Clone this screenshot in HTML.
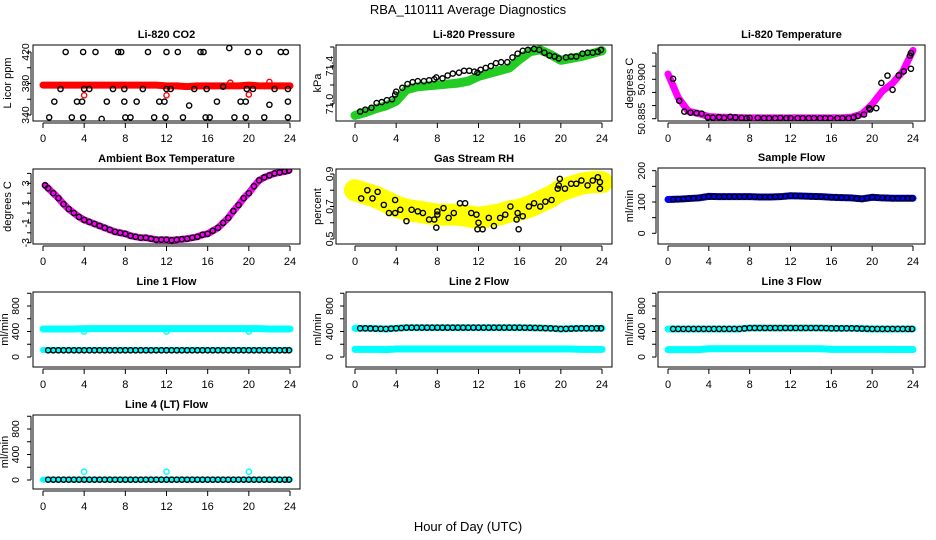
<!DOCTYPE html>
<html><head><meta charset="utf-8"><style>
html,body{margin:0;padding:0;background:#fff;}
svg{display:block;font-family:"Liberation Sans",Arial,sans-serif;}
</style></head><body>
<svg id="chart" width="936" height="540" viewBox="0 0 936 540" xmlns="http://www.w3.org/2000/svg">
<rect width="936" height="540" fill="#fff"/>
<text x="468" y="14" text-anchor="middle" font-size="13">RBA_110111  Average Diagnostics</text>
<text x="468" y="531" text-anchor="middle" font-size="13">Hour of Day (UTC)</text>
</svg>
<script>
// ---- data ----
const xTicks = [0,4,8,12,16,20,24];
const bandHours = [0,1,2,3,4,5,6,7,8,9,10,11,12,13,14,15,16,17,18,19,20,21,22,23,24];
const ptHours = [0.5,1,1.5,2,2.5,3,3.5,4,4.5,5,5.5,6,6.5,7,7.5,8,8.5,9,9.5,10,10.5,11,11.5,12,12.5,13,13.5,14,14.5,15,15.5,16,16.5,17,17.5,18,18.5,19,19.5,20,20.5,21,21.5,22,22.5,23,23.5,23.9];
const outlierHours = [4,12,20];

// CO2
const co2Hours = [0.6,1.1,1.7,2.2,2.8,3.3,3.8,3.9,3.9,4.0,4.5,5.1,5.7,6.2,6.8,7.3,7.6,7.9,7.9,8.0,8.5,9.1,9.7,10.2,10.8,11.3,11.8,11.9,12.0,12.0,12.4,13.1,13.6,14.2,14.7,15.3,15.6,15.8,15.9,16.2,16.9,17.5,18.1,18.6,19.2,19.7,19.7,19.8,19.9,20.4,21.0,21.5,22.0,22.5,23.1,23.6,23.8,23.8,23.8];
const co2Black = [337,357,373,420,337,357,357,420,337,373,373,420,335,357,373,420,420,373,357,337,337,357,373,420,337,357,357,337,373,420,373,420,337,352,373,420,420,337,373,337,357,376,425,337,357,357,337,373,420,373,420,337,353,373,420,420,373,357,337];
const co2Band = [378,378,378,378,378,378,378,378,378,378,378,378,377,377,376,377,377,377,377,377,378,377,377,377,377];
const co2RedOutHours = [4.0,12.0,18.2,20.0,22.0];
const co2RedOut = [365,365,381,366,382];
// Pressure
const presHours = [0.5,1.0,1.6,2.1,2.6,3.1,3.6,3.9,4.0,4.6,5.1,5.6,6.1,6.7,7.2,7.7,7.9,8.5,9.0,9.5,10.1,10.6,11.1,11.6,11.9,12.2,12.7,13.2,13.7,14.2,14.8,15.3,15.8,16.3,16.8,17.4,17.9,18.4,18.9,19.4,19.8,20.5,21.0,21.5,22.1,22.6,23.1,23.6,23.9];
const presBlack = [70.92,70.94,70.96,71.01,71.02,71.04,71.05,71.10,71.13,71.17,71.21,71.23,71.24,71.24,71.25,71.26,71.28,71.27,71.30,71.32,71.33,71.35,71.35,71.34,71.33,71.36,71.38,71.40,71.43,71.44,71.44,71.49,71.53,71.56,71.57,71.58,71.57,71.54,71.51,71.50,71.48,71.49,71.50,71.50,71.53,71.54,71.54,71.55,71.57];
const presBand = [70.88,70.91,70.95,70.98,71.03,71.15,71.18,71.19,71.20,71.21,71.22,71.24,71.29,71.32,71.35,71.38,71.47,71.55,71.57,71.52,71.46,71.48,71.50,71.53,71.56];
// Li-820 Temperature
const tempHours = [0.5,1.1,1.6,2.2,2.8,3.3,3.9,4.4,5.0,5.5,6.1,6.6,7.2,7.7,8.0,8.8,9.4,9.9,10.5,11.0,11.6,12.0,12.7,13.2,13.8,14.3,14.9,15.4,15.9,16.6,17.1,17.7,18.2,18.6,19.2,19.7,19.8,20.4,20.9,21.5,22.0,22.6,23.1,23.7,23.8,23.8];
const tempBlack = [50.9002,50.8918,50.8877,50.8873,50.8871,50.8869,50.8855,50.8854,50.8856,50.8853,50.8857,50.8855,50.8853,50.8852,50.8853,50.8853,50.8852,50.8852,50.8852,50.8853,50.8852,50.8852,50.8852,50.8852,50.8852,50.8852,50.8852,50.8852,50.8852,50.8852,50.8852,50.8852,50.8855,50.8860,50.8866,50.8890,50.8885,50.8890,50.8986,50.9014,50.8960,50.9015,50.9030,50.9090,50.9100,50.9040];
const tempBand = [50.9020,50.8930,50.8878,50.8870,50.8858,50.8856,50.8855,50.8854,50.8853,50.8853,50.8853,50.8853,50.8853,50.8853,50.8853,50.8853,50.8853,50.8853,50.8856,50.8868,50.8905,50.8955,50.8985,50.9030,50.9110];
// Ambient box temperature
const ambHours = [0.2,0.5,1,1.5,2,2.5,3,3.5,4,4.5,5,5.5,6,6.5,7,7.5,8,8.5,9,9.5,10,10.5,11,11.5,12,12.5,13,13.5,14,14.5,15,15.5,16,16.5,17,17.5,18,18.5,19,19.5,20,20.5,21,21.5,22,22.5,23,23.5,23.9];
const ambBlack = [2.8,2.5,2.0,1.5,0.9,0.4,0,-0.4,-0.7,-0.9,-1.1,-1.3,-1.5,-1.7,-1.9,-2.0,-2.1,-2.3,-2.4,-2.5,-2.5,-2.6,-2.7,-2.7,-2.7,-2.75,-2.7,-2.65,-2.6,-2.5,-2.4,-2.2,-2.1,-1.8,-1.5,-1.0,-0.5,0.2,0.8,1.5,2.0,2.7,3.3,3.6,3.8,4.0,4.1,4.2,4.3];
// Gas stream RH
const rhHours = [0.6,1.2,1.7,2.2,2.8,3.3,3.9,3.9,4.4,5.0,5.5,6.1,6.6,7.2,7.7,7.9,8.0,8.0,8.6,9.1,9.6,10.2,10.7,11.3,11.8,11.9,12.0,12.4,13.0,13.5,14.1,14.6,15.1,15.7,15.8,15.9,16.3,16.9,17.4,18.0,18.5,19.1,19.7,19.8,19.9,20.4,21.0,21.5,22.0,22.6,23.1,23.6,23.8,23.8];
const rhBlack = [0.75,0.80,0.75,0.79,0.71,0.66,0.66,0.74,0.68,0.61,0.68,0.67,0.66,0.62,0.62,0.57,0.67,0.65,0.69,0.63,0.66,0.72,0.72,0.66,0.65,0.56,0.60,0.56,0.63,0.58,0.63,0.65,0.70,0.62,0.66,0.56,0.64,0.70,0.72,0.70,0.73,0.74,0.81,0.83,0.87,0.81,0.84,0.84,0.86,0.83,0.86,0.88,0.85,0.81];
const rhBand = [0.80,0.78,0.76,0.73,0.70,0.68,0.67,0.66,0.65,0.65,0.65,0.64,0.63,0.64,0.65,0.67,0.68,0.70,0.73,0.76,0.80,0.82,0.84,0.85,0.85];
// Sample flow
const sampleBand = [108,109,111,113,118,117,117,117,117,116,116,117,120,119,118,117,115,114,113,110,115,113,112,112,112];
// Line flows
const line1High = [440,440,440,440,445,445,445,445,445,445,445,445,445,445,445,445,445,445,445,445,445,445,440,440,440];
const line1Low = [110,110,110,110,110,110,110,110,110,110,110,110,110,110,110,110,110,110,110,110,110,110,110,110,110];
const line1Out = [400,400,400];
const line2High = [450,450,445,440,450,460,460,460,460,460,460,460,460,460,460,460,460,458,455,450,440,445,450,450,450];
const line2Low = [120,120,120,115,125,125,125,125,125,125,125,125,125,125,125,125,125,125,125,125,125,125,120,120,120];
const line3High = [440,440,440,440,440,440,440,440,455,455,455,455,455,455,455,455,450,450,450,445,440,440,440,440,440];
const line3Low = [115,115,115,115,130,130,130,130,130,130,130,130,130,130,130,130,120,120,120,120,120,120,118,118,118];
const line4Band = [5,5,5,5,5,5,5,5,5,5,5,5,5,5,5,5,5,5,5,5,5,5,5,5,5];
const line4Out = [130,130,130];

// ---- drawing ----
const svg = document.getElementById('chart');
const NS = 'http://www.w3.org/2000/svg';
function mk(tag, attrs, parent){ const e=document.createElementNS(NS,tag); for(const k in attrs) e.setAttribute(k,attrs[k]); (parent||svg).appendChild(e); return e; }

function panel(cfg){
  const g = mk('g',{});
  
  
  const xs = h => cfg.t0 + (cfg.t24-cfg.t0)*h/24;
  const ys = v => cfg.p1 + (v-cfg.v1)*(cfg.p2-cfg.p1)/(cfg.v2-cfg.v1);
  const [L,R,T,B] = cfg.box;
  const clipId = 'clip-'+cfg.name;
  const cp = mk('clipPath',{id:clipId},g); mk('rect',{x:L,y:T,width:R-L,height:B-T},cp);
  const plot = mk('g',{'clip-path':'url(#'+clipId+')'},g);
  
  
  cfg.draw(plot, xs, ys);
  const box = mk('rect',{x:L,y:T,width:R-L,height:B-T,fill:'none',stroke:'#000','stroke-width':1},g);
  
  
  const t = mk('text',{x:(L+R)/2,y:T-7,'text-anchor':'middle','font-size':11,'font-weight':'bold'},g);
  t.textContent = cfg.title;
  
  
  // x axis
  mk('line',{x1:xs(0),x2:xs(24),y1:B+2,y2:B+2,stroke:'#000'},g);
  xTicks.forEach(h=>{
    mk('line',{x1:xs(h),x2:xs(h),y1:B+2,y2:B+7,stroke:'#000'},g);
    const tl = mk('text',{x:xs(h),y:B+21,'text-anchor':'middle','font-size':11},g);
    tl.textContent = h;
    
    
  });
  // y axis
  const yt = cfg.yTicks;
  mk('line',{x1:L-2,x2:L-2,y1:ys(yt[0]),y2:ys(yt[yt.length-1]),stroke:'#000'},g);
  yt.forEach(v=>{ mk('line',{x1:L-2,x2:L-6,y1:ys(v),y2:ys(v),stroke:'#000'},g); });
  cfg.yLabels.forEach(v=>{
    const yl = mk('text',{x:0,y:0,'text-anchor':'middle','font-size':10.5,transform:`translate(${cfg.labX},${ys(v)}) rotate(-90)`},g);
    yl.textContent = cfg.fmt ? cfg.fmt(v) : v;
    
    
  });
  const ytt = mk('text',{x:0,y:0,'text-anchor':'middle','font-size':11,transform:`translate(${cfg.titX},${(T+B)/2}) rotate(-90)`},g);
  ytt.textContent = cfg.yTitle;
  
  
}

function band(p, xs, ys, hours, vals, color, w){
  const pl = mk('polyline',{points:hours.map((h,i)=>xs(h)+','+ys(vals[i])).join(' '),fill:'none',stroke:color,'stroke-width':w,'stroke-linecap':'round','stroke-linejoin':'round'},p);
  
  
}
function pts(p, xs, ys, hours, vals, color, r){
  hours.forEach((h,i)=>{
    const c = mk('circle',{cx:xs(h),cy:ys(vals[i]),r:r||2.6,fill:'none',stroke:color,'stroke-width':1.4},p);
    
    
  });
}
function lerp(vals, h){ const i=Math.min(23,Math.floor(h)); const f=h-i; return vals[i]*(1-f)+vals[i+1]*f; }

panel({name:'li820-co2',title:'Li-820 CO2',box:[33,300,45,121],t0:43,t24:290,v1:420,p1:52,v2:340,p2:115,yTicks:[340,360,380,400,420],yLabels:[340,380,420],labX:29,titX:11,yTitle:'L icor ppm',
  draw:(p,xs,ys)=>{ band(p,xs,ys,bandHours,co2Band,'#ff0000',7); pts(p,xs,ys,co2RedOutHours,co2RedOut,'#ff0000'); pts(p,xs,ys,co2Hours,co2Black,'#000'); }});
panel({name:'li820-pressure',title:'Li-820 Pressure',box:[336,612,45,121],t0:355,t24:602,v1:71.4,p1:66,v2:71.0,p2:104,yTicks:[71.0,71.2,71.4,71.6],yLabels:[71.0,71.4],fmt:v=>v.toFixed(1),labX:333,titX:321,yTitle:'kPa',
  draw:(p,xs,ys)=>{ band(p,xs,ys,bandHours,presBand,'#22cc22',9); pts(p,xs,ys,presHours,presBlack,'#000'); }});
panel({name:'li820-temperature',title:'Li-820 Temperature',box:[658,925,45,121],t0:668,t24:913,v1:50.885,p1:118.7,v2:50.900,p2:79.3,yTicks:[50.885,50.890,50.895,50.900,50.905,50.910],yLabels:[50.885,50.900],fmt:v=>v.toFixed(3),labX:645,titX:633,yTitle:'degrees C',
  draw:(p,xs,ys)=>{ band(p,xs,ys,bandHours,tempBand,'#ff00ff',7); pts(p,xs,ys,tempHours,tempBlack,'#000'); }});
panel({name:'ambient-box-temperature',title:'Ambient Box Temperature',box:[33,300,169,244],t0:43,t24:290,v1:3,p1:183.3,v2:-3,p2:242.7,yTicks:[-3,-2,-1,0,1,2,3,4],yLabels:[-3,-1,1,3],labX:29,titX:11,yTitle:'degrees C',
  draw:(p,xs,ys)=>{ band(p,xs,ys,ambHours,ambBlack,'#ff00ff',7); pts(p,xs,ys,ambHours,ambBlack,'#000'); }});
panel({name:'gas-stream-rh',title:'Gas Stream RH',box:[336,612,169,244],t0:355,t24:602,v1:0.9,p1:174,v2:0.5,p2:239,yTicks:[0.5,0.6,0.7,0.8,0.9],yLabels:[0.5,0.7,0.9],fmt:v=>v.toFixed(1),labX:333,titX:321,yTitle:'percent',
  draw:(p,xs,ys)=>{ band(p,xs,ys,bandHours,rhBand,'#ffff00',22); pts(p,xs,ys,rhHours,rhBlack,'#000'); }});
panel({name:'sample-flow',title:'Sample Flow',box:[658,925,168,244],t0:668,t24:913,v1:200,p1:170.7,v2:0,p2:233.3,yTicks:[0,50,100,150,200],yLabels:[0,100,200],labX:645,titX:633,yTitle:'ml/min',
  draw:(p,xs,ys)=>{ band(p,xs,ys,bandHours,sampleBand,'#0000ff',7); pts(p,xs,ys,ptHours,ptHours.map(h=>lerp(sampleBand,h)),'#000'); }});
const flowTicks=[0,200,400,600,800,1000], flowLabels=[0,400,800];
panel({name:'line-1-flow',title:'Line 1 Flow',box:[33,300,292,367],t0:43,t24:290,v1:800,p1:306,v2:0,p2:357,yTicks:flowTicks,yLabels:flowLabels,labX:19,titX:8,yTitle:'ml/min',
  draw:(p,xs,ys)=>{ band(p,xs,ys,bandHours,line1High,'#00ffff',7); band(p,xs,ys,bandHours,line1Low,'#00ffff',6); pts(p,xs,ys,outlierHours,line1Out,'#00ffff'); pts(p,xs,ys,ptHours,ptHours.map(h=>lerp(line1Low,h)-5),'#000'); }});
panel({name:'line-2-flow',title:'Line 2 Flow',box:[346,612,292,367],t0:355,t24:602,v1:800,p1:306,v2:0,p2:357,yTicks:flowTicks,yLabels:flowLabels,labX:333,titX:321,yTitle:'ml/min',
  draw:(p,xs,ys)=>{ band(p,xs,ys,bandHours,line2High,'#00ffff',7); band(p,xs,ys,bandHours,line2Low,'#00ffff',7); pts(p,xs,ys,ptHours,ptHours.map(h=>lerp(line2High,h)),'#000'); }});
panel({name:'line-3-flow',title:'Line 3 Flow',box:[658,925,292,367],t0:668,t24:913,v1:800,p1:306,v2:0,p2:357,yTicks:flowTicks,yLabels:flowLabels,labX:645,titX:633,yTitle:'ml/min',
  draw:(p,xs,ys)=>{ band(p,xs,ys,bandHours,line3High,'#00ffff',7); band(p,xs,ys,bandHours,line3Low,'#00ffff',7); pts(p,xs,ys,ptHours,ptHours.map(h=>lerp(line3High,h)),'#000'); }});
panel({name:'line-4-lt-flow',title:'Line 4 (LT) Flow',box:[33,300,415,489],t0:43,t24:290,v1:800,p1:429,v2:0,p2:480,yTicks:flowTicks,yLabels:flowLabels,labX:19,titX:8,yTitle:'ml/min',
  draw:(p,xs,ys)=>{ band(p,xs,ys,bandHours,line4Band,'#00ffff',6); pts(p,xs,ys,outlierHours,line4Out,'#00ffff'); pts(p,xs,ys,ptHours,ptHours.map(h=>lerp(line4Band,h)),'#000'); }});
</script>
</body></html>
